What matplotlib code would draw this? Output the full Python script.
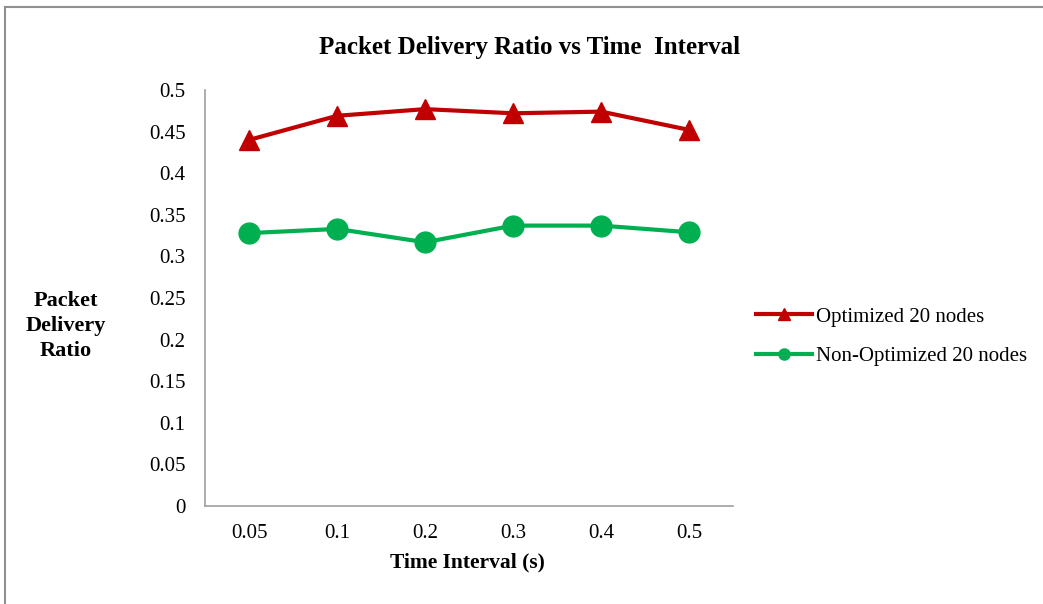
import matplotlib.pyplot as plt
from matplotlib.lines import Line2D

plt.rcParams['font.family'] = ['Liberation Serif', 'DejaVu Serif']

intervals = ["0.05", "0.1", "0.2", "0.3", "0.4", "0.5"]
optimized = [0.440, 0.469, 0.477, 0.472, 0.474, 0.452]
non_optimized = [0.328, 0.333, 0.317, 0.337, 0.337, 0.329]

fig = plt.figure(figsize=(10.43, 6.04), dpi=100)
ax = fig.add_axes([0.1966, 0.1623, 0.5064, 0.6887])

x = range(len(intervals))
ax.plot(x, optimized, color="#C00000", linewidth=3, marker="^", markersize=14,
        label="Optimized 20 nodes")
ax.plot(x, non_optimized, color="#00B050", linewidth=3, marker="o", markersize=15,
        label="Non-Optimized 20 nodes")

ax.set_xlim(-0.5, len(intervals) - 0.5)
ax.set_ylim(0, 0.5)
ax.set_yticks([i * 0.05 for i in range(11)])
ax.set_yticklabels(["0", "0.05", "0.1", "0.15", "0.2", "0.25", "0.3", "0.35", "0.4", "0.45", "0.5"])
ax.set_xticks(list(x))
ax.set_xticklabels(intervals)
ax.tick_params(length=0, labelsize=15, pad=13)
ax.tick_params(axis="y", pad=14)
for s in ["top", "right"]:
    ax.spines[s].set_visible(False)
for s in ["left", "bottom"]:
    ax.spines[s].set_color("#A0A0A0")
    ax.spines[s].set_linewidth(1.2)

fig.text(0.508, 0.922, "Packet Delivery Ratio vs Time  Interval", ha="center", va="center",
         fontsize=18, fontweight="bold")
fig.text(0.448, 0.068, "Time Interval (s)", ha="center", va="center",
         fontsize=15.5, fontweight="bold")
fig.text(0.063, 0.46, "Packet\nDelivery\nRatio", ha="center", va="center",
         fontsize=16, fontweight="bold", linespacing=1.35)

handles = [
    Line2D([], [], color="#C00000", linewidth=3, marker="^", markersize=8),
    Line2D([], [], color="#00B050", linewidth=3, marker="o", markersize=8),
]
fig.legend(handles, ["Optimized 20 nodes", "Non-Optimized 20 nodes"],
           loc="center left", bbox_to_anchor=(0.711, 0.443), frameon=False,
           fontsize=15, handlelength=2.7, handletextpad=0.15, labelspacing=0.95,
           borderpad=0.2)

# outer chart border (top and left edges visible)
fig.add_artist(Line2D([0.005, 1.0], [0.988, 0.988], color="#909090", linewidth=1.5))
fig.add_artist(Line2D([0.005, 0.005], [0.0, 0.988], color="#909090", linewidth=1.5))

fig.savefig("out.png", dpi=100)
